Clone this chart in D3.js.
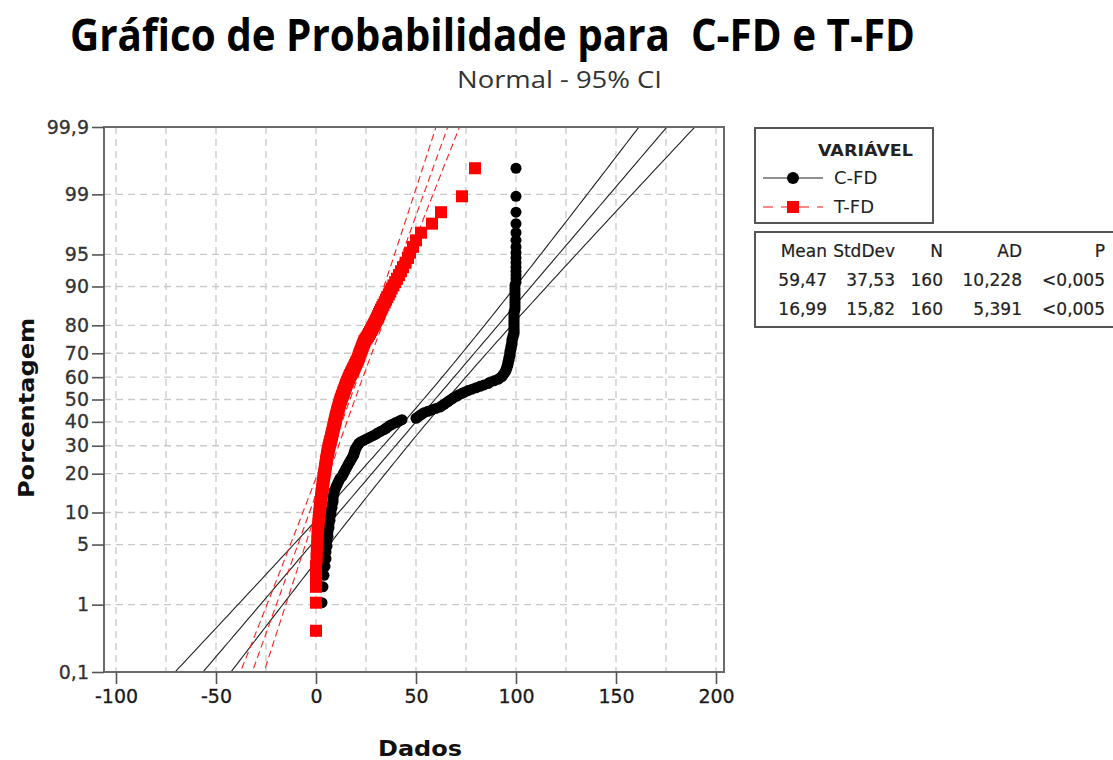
<!DOCTYPE html>
<html><head><meta charset="utf-8">
<script src="https://cdn.jsdelivr.net/npm/d3@7"></script>
<style>body{margin:0;background:#fff}svg{display:block}</style>
</head><body><svg id="c" width="1113" height="760"></svg>
<script>
const seriesNames = ["C-FD", "T-FD"];
const cfdValues = [
 0,3,3.5,4,4.5,5,5,5.5,5.5,6,
 6,6.5,6.5,7,7,7.5,7.5,8,8,8.5,
 8.5,8.5,9,9,9.5,10,10.5,11,11.5,12,
 13,13.5,14,14.5,15,15.5,16,16.5,17,17.5,
 18,18.5,19,19,19.5,19.5,20,20.5,21,21.5,
 22.5,24,25.5,27,28.5,30,31,32.5,34,35,
 36,37,38.5,40,41.5,43,50,51,52,53,
 54,56,58,60,62,63,64,65,66,67,
 68,69,70.5,71.5,73,74.5,76,78,80,82,
 84,86,87,89,91,92,93,93.5,94,94.5,
 95,95,95.5,95.5,96,96,96,96.5,96.5,96.5,
 97,97,97,97,97.5,97.5,97.5,98,98,98,
 98,98.5,98.5,99,99,99,99,99,99,99,
 99,99,99,99,99,99.5,99.5,99.5,99.5,99.5,
 99.5,99.5,99.5,99.5,99.5,100,100,100,100,100,
 100,100,100,100,100,100,100,100,100,100
];
const tfdValues = [
 0,0,0,0,0,0.3,0.4,0.6,0.7,0.8,
 0.9,1.0,1.2,1.3,1.5,1.7,1.8,2.0,2.2,2.3,
 2.5,2.7,2.8,3.0,3.1,3.3,3.4,3.5,3.7,3.8,
 4.0,4.1,4.3,4.4,4.6,4.7,4.8,5.0,5.1,5.2,
 5.4,5.5,5.7,5.8,6.0,6.2,6.3,6.5,6.7,6.9,
 7.1,7.3,7.5,7.7,7.8,8.0,8.2,8.4,8.5,8.7,
 8.8,9.0,9.2,9.3,9.5,9.7,9.8,10.0,10.2,10.4,
 10.5,10.7,10.9,11.1,11.3,11.5,11.7,11.9,12.1,12.3,
 12.5,12.8,13.0,13.3,13.5,13.8,14.0,14.3,14.5,14.8,
 15.0,15.3,15.6,15.9,16.2,16.5,16.8,17.1,17.5,17.8,
 18.2,18.5,18.9,19.3,19.6,20.0,20.3,20.7,21.0,21.3,
 21.5,21.8,22.1,22.4,22.7,23.0,23.3,23.6,24.0,24.3,
 24.8,25.4,26.0,26.5,27.0,27.5,28.0,28.5,29.0,29.5,
 30.0,30.5,31.0,31.5,32.0,32.5,33.1,33.7,34.4,35.0,
 35.7,36.4,37.1,37.8,38.7,39.6,40.5,41.5,42.5,43.5,
 44.8,46.0,47.0,48.5,50.0,52.5,58.0,62.5,73.0,79.5
];
const seriesMean = [59.47, 16.99];
const seriesStDev = [37.53, 15.82];
const seriesN = [160, 160];
const statsHeader = ["Mean", "StdDev", "N", "AD", "P"];
const statsRowCFD = ["59,47", "37,53", "160", "10,228", "<0,005"];
const statsRowTFD = ["16,99", "15,82", "160", "5,391", "<0,005"];
const xTicks = [-100, -50, 0, 50, 100, 150, 200];
const xGrid = [-100, -75, -50, -25, 0, 25, 50, 75, 100, 125, 150, 175, 200];
const yTicks = [0.1, 1, 5, 10, 20, 30, 40, 50, 60, 70, 80, 90, 95, 99, 99.9];
const yTickLabels = ["0,1", "1", "5", "10", "20", "30", "40", "50", "60", "70", "80", "90", "95", "99", "99,9"];
const yGrid = [1, 5, 10, 20, 30, 40, 50, 60, 70, 80, 90, 95, 99];

function probit(p){
 const a=[-3.969683028665376e+01,2.209460984245205e+02,-2.759285104469687e+02,1.383577518672690e+02,-3.066479806614716e+01,2.506628277459239e+00];
 const b=[-5.447609879822406e+01,1.615858368580409e+02,-1.556989798598866e+02,6.680131188771972e+01,-1.328068155288572e+01];
 const c=[-7.784894002430293e-03,-3.223964580411365e-01,-2.400758277161838e+00,-2.549671010015734e+00,4.374664141464968e+00,2.938163982698783e+00];
 const d=[7.784695709041462e-03,3.224671290700398e-01,2.445134137142996e+00,3.754408661907416e+00];
 const pl=0.02425, ph=1-pl; let q,r;
 if(p<pl){q=Math.sqrt(-2*Math.log(p));return (((((c[0]*q+c[1])*q+c[2])*q+c[3])*q+c[4])*q+c[5])/((((d[0]*q+d[1])*q+d[2])*q+d[3])*q+1);}
 if(p<=ph){q=p-0.5;r=q*q;return (((((a[0]*r+a[1])*r+a[2])*r+a[3])*r+a[4])*r+a[5])*q/(((((b[0]*r+b[1])*r+b[2])*r+b[3])*r+b[4])*r+1);}
 q=Math.sqrt(-2*Math.log(1-p));return -(((((c[0]*q+c[1])*q+c[2])*q+c[3])*q+c[4])*q+c[5])/((((d[0]*q+d[1])*q+d[2])*q+d[3])*q+1);
}

const svg = d3.select("#c");
const L = 104, R = 724, T = 127, B = 672;
const x = d3.scaleLinear().domain([-106, 204]).range([L, R]);
const y = d3.scaleLinear().domain([probit(0.001), probit(0.999)]).range([B, T]);
const FONT = "'DejaVu Sans', Verdana, sans-serif";

svg.append("defs").append("clipPath").attr("id","clip")
  .append("rect").attr("x",L).attr("y",T).attr("width",R-L).attr("height",B-T);

// grid
const g = svg.append("g");
g.selectAll("line.vg").data(xGrid).enter().append("line")
  .attr("x1",d=>x(d)).attr("x2",d=>x(d)).attr("y1",T).attr("y2",B)
  .attr("stroke","#c9c9c9").attr("stroke-width",1.3).attr("stroke-dasharray","7,5");
g.selectAll("line.hg").data(yGrid).enter().append("line")
  .attr("x1",L).attr("x2",R).attr("y1",d=>y(probit(d/100))).attr("y2",d=>y(probit(d/100)))
  .attr("stroke","#c9c9c9").attr("stroke-width",1.3).attr("stroke-dasharray","7,5");

// fitted lines & CI
const zs = d3.range(-3.4, 3.41, 0.05);
const plotArea = svg.append("g").attr("clip-path","url(#clip)");
function fitLines(k, color, dash){
  const m = seriesMean[k], s = seriesStDev[k], n = seriesN[k];
  [-1,0,1].forEach(sign=>{
    const line = d3.line()
      .x(z=>x(m + z*s + sign*1.96*s*Math.sqrt((1+z*z/2)/n)))
      .y(z=>y(z));
    plotArea.append("path").datum(zs).attr("d",line)
      .attr("fill","none").attr("stroke",color).attr("stroke-width",1.1)
      .attr("stroke-dasharray",dash);
  });
}
fitLines(0, "#222", null);
fitLines(1, "#ff2020", "7,4");

function pos(i, n){ return probit((i + 1 - 0.3)/(n + 0.4)); }
plotArea.append("g").selectAll("circle").data(cfdValues).enter().append("circle")
  .attr("cx",d=>x(d)).attr("cy",(d,i)=>y(pos(i,cfdValues.length))).attr("r",5.5).attr("fill","#000");
plotArea.append("g").selectAll("rect").data(tfdValues).enter().append("rect")
  .attr("x",d=>x(d)-6).attr("y",(d,i)=>y(pos(i,tfdValues.length))-6)
  .attr("width",12).attr("height",12).attr("fill","#ff0000");

// frame
svg.append("rect").attr("x",L).attr("y",T).attr("width",R-L).attr("height",B-T)
  .attr("fill","none").attr("stroke","#6a6a6a").attr("stroke-width",2);

// axes
const xAxis = d3.axisBottom(x).tickValues(xTicks).tickSize(12).tickPadding(6).tickFormat(d=>String(d));
const ax = svg.append("g").attr("transform",`translate(0,${B})`).call(xAxis);
ax.select(".domain").remove();
ax.selectAll("line").attr("stroke","#555").attr("stroke-width",1.6);
ax.selectAll("text").attr("font-family",FONT).attr("font-size",19).attr("fill","#1a1a1a")
  .attr("stroke","#1a1a1a").attr("stroke-width",0.3);

const yAxis = d3.axisLeft(y).tickValues(yTicks.map(p=>probit(p/100))).tickSize(12).tickPadding(3)
  .tickFormat((d,i)=>yTickLabels[i]);
const ay = svg.append("g").attr("transform",`translate(${L},0)`).call(yAxis);
ay.select(".domain").remove();
ay.selectAll("line").attr("stroke","#555").attr("stroke-width",1.6);
ay.selectAll("text").attr("font-family",FONT).attr("font-size",19).attr("fill","#333")
  .attr("stroke","#333").attr("stroke-width",0.3);

// titles
svg.append("text").attr("x",70).attr("y",51).attr("font-family","'Open Sans', sans-serif")
  .attr("font-weight",700).attr("font-size",44).attr("textLength",845).attr("lengthAdjust","spacingAndGlyphs")
  .attr("fill","#000").attr("xml:space","preserve").style("white-space","pre")
  .text("Gráfico de Probabilidade para  C-FD e T-FD");
svg.append("text").attr("x",457).attr("y",88).attr("font-family","'Open Sans', sans-serif")
  .attr("font-size",23).attr("textLength",205).attr("lengthAdjust","spacingAndGlyphs")
  .attr("fill","#333").text("Normal - 95% CI");
svg.append("text").attr("transform","translate(34,408) rotate(-90)").attr("text-anchor","middle")
  .attr("font-family",FONT).attr("font-weight",700).attr("font-size",21)
  .attr("textLength",180).attr("lengthAdjust","spacingAndGlyphs").attr("fill","#111").text("Porcentagem");
svg.append("text").attr("x",420).attr("y",756).attr("text-anchor","middle")
  .attr("font-family",FONT).attr("font-weight",700).attr("font-size",21)
  .attr("textLength",84).attr("lengthAdjust","spacingAndGlyphs").attr("fill","#111").text("Dados");

// legend
const lg = svg.append("g");
lg.append("rect").attr("x",755).attr("y",128).attr("width",178).attr("height",95)
  .attr("fill","#fff").attr("stroke","#555").attr("stroke-width",2);
lg.append("text").attr("x",818).attr("y",156).attr("font-family",FONT).attr("font-weight",700)
  .attr("font-size",16.5).attr("textLength",95).attr("lengthAdjust","spacingAndGlyphs")
  .attr("fill","#222").text("VARIÁVEL");
lg.append("line").attr("x1",763).attr("x2",823).attr("y1",178).attr("y2",178).attr("stroke","#222").attr("stroke-width",1.2);
lg.append("circle").attr("cx",793).attr("cy",178).attr("r",6).attr("fill","#000");
lg.append("text").attr("x",834).attr("y",184).attr("font-family",FONT).attr("font-size",18).attr("fill","#222").text(seriesNames[0]);
lg.append("line").attr("x1",763).attr("x2",823).attr("y1",207).attr("y2",207).attr("stroke","#ff6060").attr("stroke-width",1.5).attr("stroke-dasharray","10,8");
lg.append("rect").attr("x",787).attr("y",201).attr("width",12).attr("height",12).attr("fill","#ff0000");
lg.append("text").attr("x",834).attr("y",213).attr("font-family",FONT).attr("font-size",18).attr("fill","#222").text(seriesNames[1]);

// stats table
const st = svg.append("g");
st.append("rect").attr("x",755).attr("y",232).attr("width",366).attr("height",95)
  .attr("fill","#fff").attr("stroke","#555").attr("stroke-width",2);
const colRight = [827, 895, 943, 1022, 1105];
[statsHeader, statsRowCFD, statsRowTFD].forEach((row, r)=>{
  row.forEach((t, c)=>{
    st.append("text").attr("x",colRight[c]).attr("y",257 + r*29).attr("text-anchor","end")
      .attr("font-family",FONT).attr("font-size",17).attr("fill","#222")
      .attr("stroke","#222").attr("stroke-width",0.2).text(t);
  });
});
</script>
</body></html>
